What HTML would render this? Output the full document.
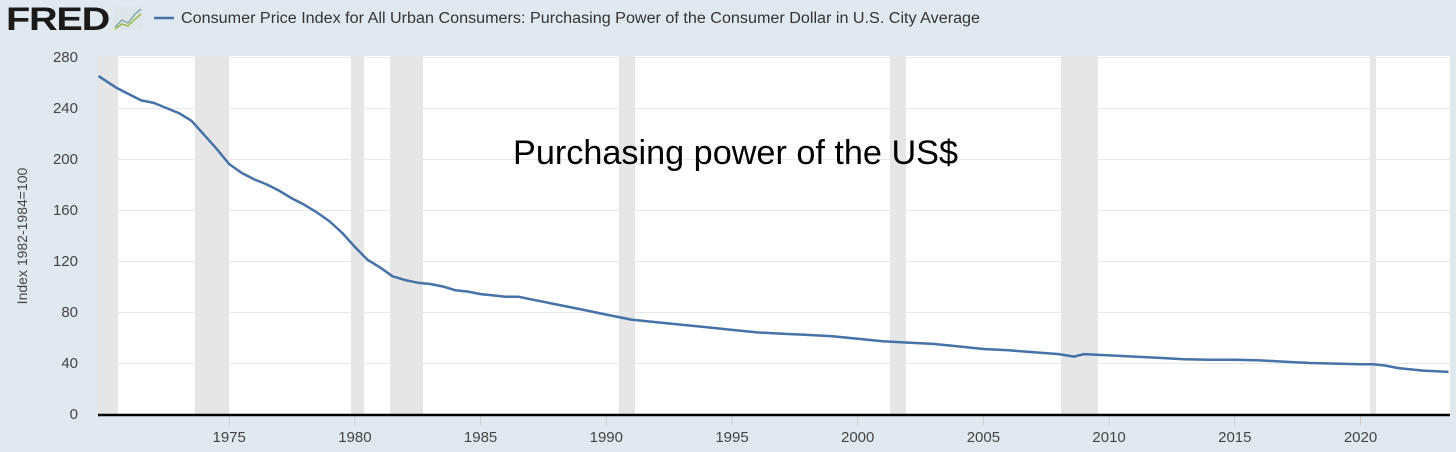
<!DOCTYPE html>
<html><head><meta charset="utf-8"><style>
html,body{margin:0;padding:0}
body{width:1456px;height:447px;background:#e1e9f0;overflow:hidden;font-family:"Liberation Sans",sans-serif}
</style></head><body>
<svg width="1456" height="447" xmlns="http://www.w3.org/2000/svg" font-family="Liberation Sans, sans-serif">
<rect width="1456" height="447" fill="#e1e9f0"/>
<text x="6" y="30" font-size="32" font-weight="bold" fill="#1a1a1a" letter-spacing="-1" textLength="103" lengthAdjust="spacingAndGlyphs">FRED</text>
<rect x="114" y="7" width="28" height="23" fill="#dfe6ea"/>
<polyline points="115,27 122,20 128,23 135,14 141,9" fill="none" stroke="#8aa" stroke-width="1.5"/>
<polyline points="115,29 122,24 128,26 135,19 141,14" fill="none" stroke="#9b4" stroke-width="1.5"/>
<line x1="154" y1="18" x2="174" y2="18" stroke="#4572a7" stroke-width="2.5"/>
<text x="181" y="23" font-size="15.5" fill="#333" textLength="799" lengthAdjust="spacingAndGlyphs">Consumer Price Index for All Urban Consumers: Purchasing Power of the Consumer Dollar in U.S. City Average</text>
<rect x="98" y="56" width="1352" height="358" fill="#fff"/>
<g fill="#e6e6e6">
<rect x="98" y="56" width="20" height="358"/>
<rect x="195" y="56" width="34" height="358"/>
<rect x="351" y="56" width="13" height="358"/>
<rect x="390" y="56" width="33" height="358"/>
<rect x="619" y="56" width="16" height="358"/>
<rect x="890" y="56" width="16" height="358"/>
<rect x="1061" y="56" width="37" height="358"/>
<rect x="1370" y="56" width="6" height="358"/>
</g>
<g stroke="#e8e8e8" stroke-width="1">
<line x1="118" x2="1450" y1="57.5" y2="57.5"/><line x1="118" x2="1450" y1="108.5" y2="108.5"/>
<line x1="118" x2="1450" y1="159.5" y2="159.5"/><line x1="118" x2="1450" y1="210.5" y2="210.5"/>
<line x1="118" x2="1450" y1="261.5" y2="261.5"/><line x1="118" x2="1450" y1="312.5" y2="312.5"/>
<line x1="118" x2="1450" y1="363.5" y2="363.5"/>
</g>
<g font-size="15" fill="#444" text-anchor="end">
<text x="78" y="62">280</text><text x="78" y="113">240</text><text x="78" y="164">200</text>
<text x="78" y="215">160</text><text x="78" y="266">120</text><text x="78" y="317">80</text>
<text x="78" y="368">40</text><text x="78" y="419">0</text>
</g>
<text transform="translate(27,236) rotate(-90)" font-size="14" fill="#444" text-anchor="middle">Index 1982-1984=100</text>
<g id="xt" font-size="15" fill="#444" text-anchor="middle"></g>
<path id="ln" fill="none" stroke="#4572a7" stroke-width="2.5" stroke-linejoin="round"/>
<line x1="98" x2="1450" y1="415" y2="415" stroke="#000" stroke-width="2.5"/>
<text x="513" y="164" font-size="34" fill="#000" textLength="445" lengthAdjust="spacingAndGlyphs">Purchasing power of the US$</text>
</svg>
<script>
var d=[[1969.8,265],[1970.5,256],[1971,251],[1971.5,246],[1972,244],[1972.5,240],[1973,236],[1973.5,230],[1974,219],[1974.5,208],[1975,196],[1975.5,189],[1976,184],[1976.5,180],[1977,175],[1977.5,169],[1978,164],[1978.5,158],[1979,151],[1979.5,142],[1980,131],[1980.5,121],[1981,115],[1981.5,108],[1982,105],[1982.5,103],[1983,102],[1983.5,100],[1984,97],[1984.5,96],[1985,94],[1985.5,93],[1986,92],[1986.5,92],[1987,90],[1987.5,88],[1988,86],[1988.5,84],[1989,82],[1989.5,80],[1990,78],[1990.5,76],[1991,74],[1992,72],[1993,70],[1994,68],[1995,66],[1996,64],[1997,63],[1998,62],[1999,61],[2000,59],[2001,57],[2002,56],[2003,55],[2004,53],[2005,51],[2006,50],[2007,48.5],[2008,47],[2008.6,45],[2009,47],[2010,46],[2011,45],[2012,44],[2013,43],[2014,42.5],[2015,42.5],[2016,42],[2017,41],[2018,40],[2019,39.5],[2020,39],[2020.5,39],[2021,38],[2021.5,36],[2022,35],[2022.5,34],[2023.5,33]];
function X(y){return 103.5+(y-1970)*25.14}function Y(v){return 414-v*1.275}
var p="";d.forEach(function(q,i){p+=(i?"L":"M")+Math.max(98,X(q[0])).toFixed(1)+","+Y(q[1]).toFixed(1)});
document.getElementById("ln").setAttribute("d",p);
var g=document.getElementById("xt"),s="";
for(var yr=1975;yr<=2020;yr+=5){var x=X(yr);s+='<line x1="'+x+'" x2="'+x+'" y1="416" y2="425" stroke="#ccc"/><text x="'+x+'" y="442">'+yr+'</text>';}
g.innerHTML=s;
</script>
</body></html>
